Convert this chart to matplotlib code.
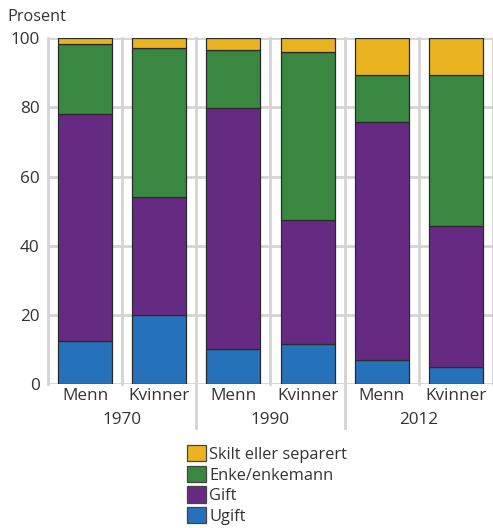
import matplotlib.pyplot as plt
from matplotlib.patches import Patch

plt.rcParams['font.family'] = ['Open Sans', 'DejaVu Sans']

# share of population by marital status, per cent
years = ['1970', '1990', '2012']
sexes = ['Menn', 'Kvinner']
ugift = [12.4, 20.0, 10.2, 11.5, 6.8, 4.8]
gift = [65.6, 34.0, 69.5, 36.0, 69.0, 40.8]
enke = [20.3, 43.1, 16.8, 48.6, 13.5, 43.9]
skilt = [1.7, 2.9, 3.5, 3.9, 10.7, 10.5]

series = [
    ('Ugift', ugift, '#2672ba'),
    ('Gift', gift, '#672a83'),
    ('Enke/enkemann', enke, '#3a8742'),
    ('Skilt eller separert', skilt, '#e9b41f'),
]

grid_col = '#d4d4d4'
text_col = '#333333'
fs = 12.3

fig = plt.figure(figsize=(4.93, 5.28), dpi=100)
ax = fig.add_axes([48 / 493, 1 - 384 / 528, 445 / 493, 345.7 / 528])

x = list(range(len(ugift)))
bottom = [0.0] * len(x)
for name, vals, col in series:
    ax.bar(x, vals, width=0.73, bottom=bottom, color=col,
           edgecolor='#2a2a2a', linewidth=0.9, zorder=3)
    bottom = [b + v for b, v in zip(bottom, vals)]

ax.set_xlim(-0.5, 5.5)
ax.set_ylim(0, 100)
ax.set_yticks([0, 20, 40, 60, 80, 100])
ax.tick_params(axis='y', length=0, pad=6, labelsize=fs, labelcolor=text_col)
ax.tick_params(axis='x', length=0, pad=3, labelsize=fs, labelcolor=text_col)
ax.set_xticks(x)
ax.set_xticklabels(sexes * len(years))

for s in ax.spines.values():
    s.set_visible(False)

# gridlines
for yv in [0, 20, 40, 60, 80, 100]:
    ax.axhline(yv, color=grid_col, linewidth=2, zorder=1)
for k in range(7):
    xb = k - 0.5
    if k in (2, 4):
        ax.axvline(xb, ymin=-0.128, ymax=1, color=grid_col, linewidth=2,
                   zorder=1, clip_on=False)
    else:
        ax.axvline(xb, color=grid_col, linewidth=2, zorder=1, clip_on=False)

# year labels under each pair
for i, yr in enumerate(years):
    ax.text(2 * i + 0.5, -0.105, yr, transform=ax.get_xaxis_transform(),
            ha='center', va='center', fontsize=fs, color=text_col)

fig.text(7 / 493, 1 - 17 / 528, 'Prosent', ha='left', va='center',
         fontsize=11.7, color=text_col)

handles = [Patch(facecolor=col, edgecolor='#444444', linewidth=0.9, label=name)
           for name, vals, col in reversed(series)]
fig.legend(handles=handles, loc='upper left',
           bbox_to_anchor=(179 / 493, 1 - 437 / 528), frameon=False,
           fontsize=11.8, handlelength=1.15, handleheight=1.15,
           handletextpad=0.2, labelspacing=0.18, borderpad=0,
           labelcolor=text_col)

fig.savefig('out.png', dpi=100)
